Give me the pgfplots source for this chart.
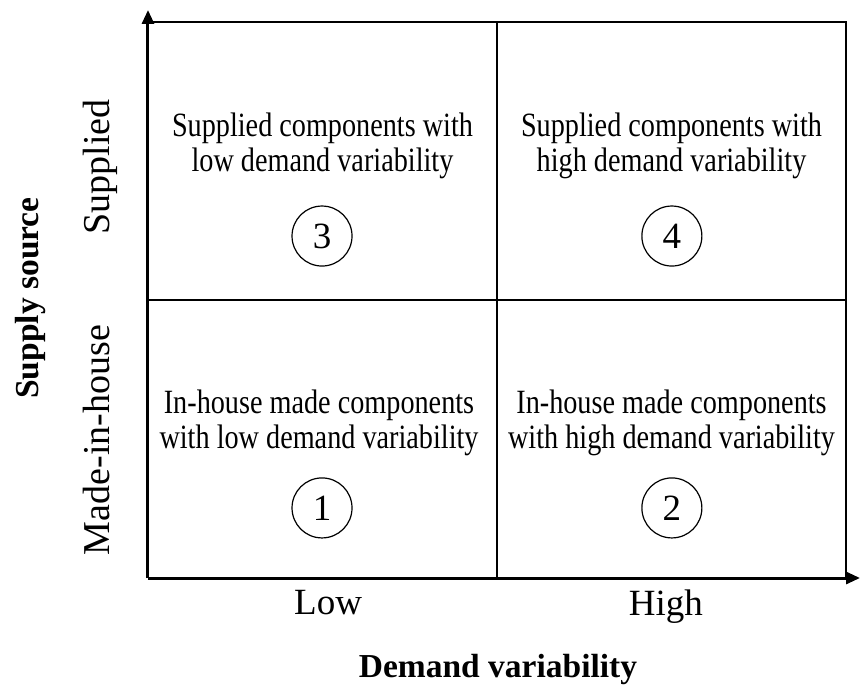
\documentclass[border=0pt]{standalone}
\usepackage{fontspec}
\setmainfont{Liberation Serif}
\newfontfamily\condfont{Liberation Serif}[FakeStretch=0.83]
\usepackage{pgfplots}
\pgfplotsset{compat=1.18}
\usetikzlibrary{arrows.meta}
\begin{document}
\begin{tikzpicture}
\begin{axis}[
  at={(0,0)}, anchor=south west,
  scale only axis,
  width=712bp, height=568bp,
  xmin=0, xmax=2.04, ymin=0, ymax=2.043,
  axis lines=left,
  axis line style={line width=3bp},
  x axis line style={-{Triangle[length=14bp,width=12bp]}},
  y axis line style={-{Triangle[length=14bp,width=12bp]}},
  clip=false,
  xtick={0.516,1.484},
  xticklabels={Low,High},
  ytick={0.496,1.478},
  yticklabels={Made-in-house,Supplied},
  major tick length=0pt,
  tick style={draw=none},
  xticklabel style={anchor=north, inner sep=0pt, font=\fontsize{37bp}{40bp}\selectfont},
  xticklabel shift=12bp,
  yticklabel style={rotate=90, anchor=base, inner sep=0pt, font=\fontsize{38bp}{40bp}\selectfont},
  yticklabel shift=38bp,
  xlabel={Demand variability},
  ylabel={Supply source},
  label style={font=\bfseries\fontsize{33.5bp}{38bp}\selectfont},
  xlabel style={at={(axis description cs:0.4916,-0.161)}, anchor=center},
  ylabel style={at={(axis description cs:-0.1657,0.493)}, anchor=center, rotate=0},
]
% outer box and dividing lines
\addplot[black, line width=2.5bp] coordinates {(0,2) (2,2) (2,0)};
\addplot[black, line width=2.5bp] coordinates {(1,0) (1,2)};
\addplot[black, line width=2.5bp] coordinates {(0,1) (2,1)};
% cell descriptions
\begin{scope}[every node/.style={align=center, font=\condfont\fontsize{34bp}{35bp}\selectfont}]
\node at (axis cs:0.5,1.553) {Supplied components with\\low demand variability};
\node at (axis cs:1.5,1.553) {Supplied components with\\high demand variability};
\node at (axis cs:0.49,0.557) {In-house made components\\with low demand variability};
\node at (axis cs:1.5,0.557) {In-house made components\\with high demand variability};
\end{scope}
\begin{scope}[every node/.style={circle, draw=black, line width=1.2bp, minimum size=60bp, inner sep=0pt, font=\fontsize{37bp}{40bp}\selectfont}]
\node at (axis cs:0.4986,1.230) {3};
\node at (axis cs:1.501,1.230) {4};
\node at (axis cs:0.4986,0.252) {1};
\node at (axis cs:1.501,0.252) {2};
\end{scope}
\end{axis}
\pgfresetboundingbox
\path[use as bounding box] (-148bp,-110bp) rectangle (713bp,578bp);
\end{tikzpicture}
\end{document}
